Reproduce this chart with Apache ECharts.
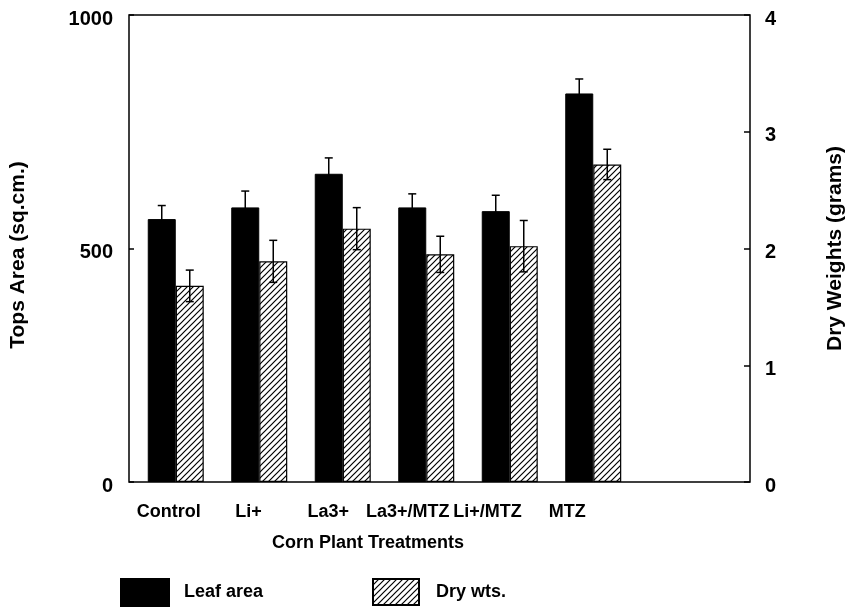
<!DOCTYPE html>
<html>
<head>
<meta charset="utf-8">
<script src="https://cdn.jsdelivr.net/npm/echarts@6/dist/echarts.min.js"></script>
<style>
  html, body { margin: 0; padding: 0; background: #fff; }
  #chart { width: 858px; height: 608px; }
</style>
</head>
<body>
<div id="chart"></div>
<script>
const categories = ['Control', 'Li+', 'La3+', 'La3+/MTZ', 'Li+/MTZ', 'MTZ'];
const leafArea = [563, 588, 660, 588, 580, 832];
const leafAreaErr = [29, 35, 34, 29, 34, 31];
const dryWts = [1.68, 1.89, 2.17, 1.95, 2.02, 2.72];
const dryWtsErr = [0.135, 0.18, 0.18, 0.155, 0.22, 0.13];
const leftTicks = { min: 0, max: 1000, interval: 500 };
const rightTicks = { min: 0, max: 4, interval: 1 };

const FONT = 'Liberation Sans';
const BAR_W = 28;

// diagonal hatch tile
const hatch = document.createElement('canvas');
hatch.width = 6;
hatch.height = 6;
const hctx = hatch.getContext('2d');
hctx.fillStyle = '#fff';
hctx.fillRect(0, 0, 6, 6);
hctx.strokeStyle = '#000';
hctx.lineWidth = 1.2;
hctx.beginPath();
hctx.moveTo(-1, 7); hctx.lineTo(7, -1);
hctx.moveTo(-1, 1); hctx.lineTo(1, -1);
hctx.moveTo(5, 7); hctx.lineTo(7, 5);
hctx.stroke();

const errorBars = (offset) => (params, api) => {
  const i = api.value(0);
  const v = api.value(1);
  const e = api.value(2);
  const c = api.coord([i, v]);
  const hi = api.coord([i, v + e]);
  const lo = api.coord([i, v - e]);
  const x = c[0] + offset;
  const cap = 4;
  const style = { stroke: '#000', lineWidth: 1.5 };
  return {
    type: 'group',
    children: [
      { type: 'line', shape: { x1: x, y1: hi[1], x2: x, y2: lo[1] }, style },
      { type: 'line', shape: { x1: x - cap, y1: hi[1], x2: x + cap, y2: hi[1] }, style },
      { type: 'line', shape: { x1: x - cap, y1: lo[1], x2: x + cap, y2: lo[1] }, style },
    ],
  };
};

const hiddenY = (gridIndex, t) => ({
  type: 'value', gridIndex, min: t.min, max: t.max, show: false,
});

const labelStyle = { fontFamily: FONT, fontWeight: 'bold', fontSize: 18, color: '#000' };
// tick numbers sit a little below their ticks in the original
const tickStyle = { ...labelStyle, fontSize: 20, verticalAlign: 'top', lineHeight: 8 };
const nameStyle = { ...labelStyle, fontSize: 21 };

const option = {
  animation: false,
  grid: [
    { left: 126, right: 108, top: 15, bottom: 126, show: true, borderColor: '#000', borderWidth: 1.5 },
    { left: 134, width: 501, top: 15, bottom: 126 },
    { left: 129, width: 478, top: 15, bottom: 126 },
  ],
  xAxis: [
    { type: 'value', gridIndex: 0, min: 0, max: 1, show: false },
    { type: 'category', gridIndex: 1, data: categories, show: false },
    {
      type: 'category', gridIndex: 2, data: categories,
      axisLine: { show: false }, axisTick: { show: false },
      axisLabel: { ...labelStyle, margin: 21, interval: 0 },
      name: 'Corn Plant Treatments', nameLocation: 'middle', nameGap: 52,
      nameTextStyle: labelStyle,
    },
  ],
  yAxis: [
    {
      type: 'value', gridIndex: 0, ...leftTicks, position: 'left',
      axisLine: { show: false },
      axisTick: { show: true, inside: true, length: 5, lineStyle: { color: '#000', width: 1.5 } },
      axisLabel: { ...tickStyle, margin: 16, formatter: (v) => String(v) },
      splitLine: { show: false },
      name: 'Tops Area (sq.cm.)', nameLocation: 'middle', nameGap: 100,
      nameTextStyle: { ...nameStyle, padding: [0, 13, 0, 0] },
    },
    {
      type: 'value', gridIndex: 0, ...rightTicks, position: 'right',
      axisLine: { show: false },
      axisTick: { show: true, inside: true, length: 6, lineStyle: { color: '#000', width: 1.5 } },
      axisLabel: { ...tickStyle, margin: 15 },
      splitLine: { show: false },
      name: 'Dry Weights (grams)', nameLocation: 'middle', nameGap: 75,
      nameTextStyle: nameStyle,
    },
    hiddenY(1, leftTicks),
    hiddenY(1, rightTicks),
    hiddenY(2, leftTicks),
  ],
  legend: [
    {
      data: ['Leaf area'], left: 120, top: 578, padding: 0,
      icon: 'rect', itemWidth: 48, itemHeight: 27,
      textStyle: { ...labelStyle, padding: [0, 0, 0, 10] },
    },
    {
      data: ['Dry wts.'], left: 372, top: 578, padding: 0,
      icon: 'rect', itemWidth: 46, itemHeight: 26,
      textStyle: { ...labelStyle, padding: [0, 0, 0, 12] },
    },
  ],
  series: [
    {
      name: 'Leaf area', type: 'bar', xAxisIndex: 1, yAxisIndex: 2,
      data: leafArea, barWidth: BAR_W, barGap: '0%',
      itemStyle: { color: '#000', borderColor: '#000', borderWidth: 1 },
    },
    {
      name: 'Dry wts.', type: 'bar', xAxisIndex: 1, yAxisIndex: 3,
      data: dryWts, barWidth: BAR_W, barGap: '0%',
      itemStyle: { color: { image: hatch, repeat: 'repeat' }, borderColor: '#000', borderWidth: 1.2 },
    },
    {
      name: 'leafErr', type: 'custom', xAxisIndex: 1, yAxisIndex: 2, z: 5,
      renderItem: errorBars(-BAR_W / 2),
      data: leafArea.map((v, i) => [i, v, leafAreaErr[i]]),
    },
    {
      name: 'dryErr', type: 'custom', xAxisIndex: 1, yAxisIndex: 3, z: 5,
      renderItem: errorBars(BAR_W / 2),
      data: dryWts.map((v, i) => [i, v, dryWtsErr[i]]),
    },
  ],
};

const chart = echarts.init(document.getElementById('chart'));
chart.setOption(option);
</script>
</body>
</html>
